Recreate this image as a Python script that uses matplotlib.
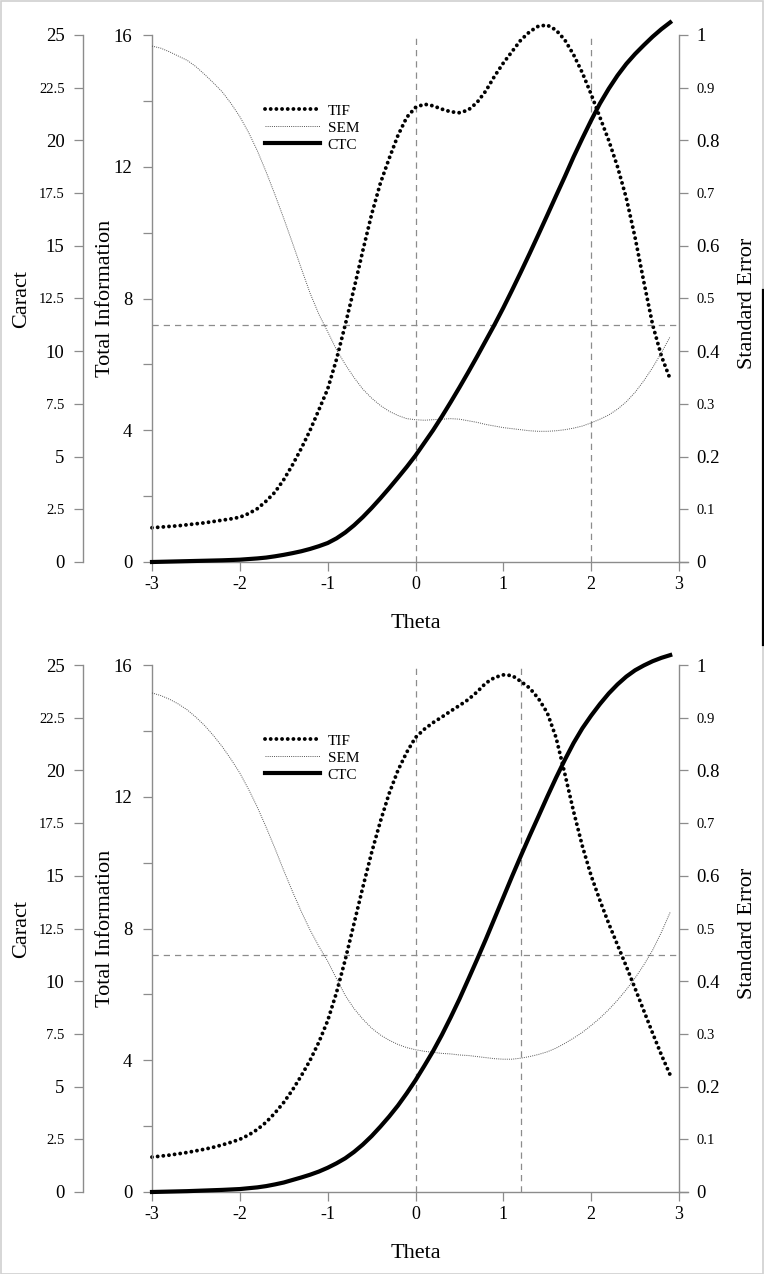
import matplotlib
matplotlib.use('Agg')
import matplotlib.pyplot as plt
from matplotlib.ticker import FixedLocator, FixedFormatter
from matplotlib.lines import Line2D
from matplotlib.patches import Rectangle

plt.rcParams['font.family'] = ['Liberation Serif', 'DejaVu Serif']
plt.rcParams['axes.unicode_minus'] = False

# ---------------- data ----------------
theta = [-3.0, -2.9, -2.8, -2.7, -2.6, -2.5, -2.4, -2.3, -2.2, -2.1,
         -2.0, -1.9, -1.8, -1.7, -1.6, -1.5, -1.4, -1.3, -1.2, -1.1,
         -1.0, -0.9, -0.8, -0.7, -0.6, -0.5, -0.4, -0.3, -0.2, -0.1,
         0.0, 0.1, 0.2, 0.3, 0.4, 0.5, 0.6, 0.7, 0.8, 0.9,
         1.0, 1.1, 1.2, 1.3, 1.4, 1.5, 1.6, 1.7, 1.8, 1.9,
         2.0, 2.1, 2.2, 2.3, 2.4, 2.5, 2.6, 2.7, 2.8, 2.9]

tif_top = [1.04, 1.06, 1.08, 1.10, 1.13, 1.16, 1.19, 1.23, 1.27, 1.31,
           1.36, 1.47, 1.62, 1.85, 2.12, 2.5, 2.95, 3.45, 4.0, 4.62,
           5.25, 6.15, 7.2, 8.3, 9.45, 10.55, 11.5, 12.25, 12.95, 13.5,
           13.8, 13.9, 13.85, 13.75, 13.67, 13.64, 13.72, 13.95, 14.3, 14.75,
           15.15, 15.5, 15.85, 16.1, 16.27, 16.3, 16.15, 15.85, 15.4, 14.85,
           14.2, 13.5, 12.8, 12.0, 11.05, 9.85, 8.5, 7.2, 6.25, 5.55]
sem_top = [0.979, 0.975, 0.968, 0.960, 0.952, 0.940, 0.925, 0.909, 0.892, 0.870,
           0.845, 0.815, 0.780, 0.740, 0.697, 0.652, 0.605, 0.557, 0.510, 0.470,
           0.437, 0.403, 0.375, 0.350, 0.328, 0.311, 0.297, 0.286, 0.278, 0.272,
           0.270, 0.269, 0.270, 0.271, 0.272, 0.271, 0.268, 0.265, 0.261, 0.258,
           0.255, 0.253, 0.251, 0.249, 0.248, 0.248, 0.249, 0.251, 0.254, 0.258,
           0.264, 0.271, 0.279, 0.290, 0.304, 0.322, 0.344, 0.369, 0.397, 0.428]
ctc_top = [0.0, 0.01, 0.02, 0.03, 0.04, 0.05, 0.06, 0.07, 0.08, 0.095,
           0.11, 0.14, 0.17, 0.21, 0.27, 0.34, 0.42, 0.51, 0.62, 0.75,
           0.9, 1.12, 1.4, 1.74, 2.13, 2.56, 3.02, 3.5, 4.0, 4.51,
           5.05, 5.65, 6.25, 6.9, 7.58, 8.28, 9.0, 9.74, 10.5, 11.26,
           12.06, 12.9, 13.76, 14.64, 15.54, 16.45, 17.37, 18.28, 19.22, 20.1,
           20.95, 21.75, 22.45, 23.08, 23.63, 24.1, 24.52, 24.92, 25.28, 25.6]

tif_bot = [1.06, 1.09, 1.12, 1.16, 1.2, 1.25, 1.3, 1.36, 1.43, 1.51,
           1.6, 1.73, 1.9, 2.12, 2.4, 2.72, 3.1, 3.53, 4.0, 4.55,
           5.2, 6.05, 7.05, 8.15, 9.25, 10.3, 11.25, 12.1, 12.8, 13.35,
           13.8, 14.05, 14.25, 14.42, 14.6, 14.77, 14.95, 15.18, 15.45, 15.62,
           15.7, 15.68, 15.5, 15.3, 14.98, 14.55, 13.8, 12.7, 11.55, 10.5,
           9.6, 8.85, 8.15, 7.5, 6.85, 6.18, 5.5, 4.82, 4.16, 3.55]
sem_bot = [0.947, 0.942, 0.935, 0.926, 0.915, 0.901, 0.885, 0.866, 0.845, 0.821,
           0.795, 0.764, 0.730, 0.692, 0.652, 0.610, 0.570, 0.532, 0.497, 0.466,
           0.438, 0.405, 0.373, 0.348, 0.328, 0.311, 0.298, 0.288, 0.280, 0.274,
           0.270, 0.267, 0.265, 0.263, 0.262, 0.260, 0.259, 0.257, 0.255, 0.253,
           0.252, 0.252, 0.254, 0.257, 0.261, 0.266, 0.273, 0.282, 0.292, 0.303,
           0.316, 0.330, 0.346, 0.364, 0.384, 0.406, 0.431, 0.459, 0.493, 0.531]
ctc_bot = [0.0, 0.01, 0.02, 0.03, 0.04, 0.055, 0.07, 0.085, 0.1, 0.12,
           0.14, 0.18, 0.22, 0.28, 0.36, 0.45, 0.57, 0.69, 0.82, 0.97,
           1.15, 1.36, 1.6, 1.9, 2.25, 2.65, 3.1, 3.58, 4.1, 4.68,
           5.3, 5.98, 6.68, 7.45, 8.28, 9.15, 10.08, 11.02, 11.98, 12.98,
           13.98, 14.98, 15.95, 16.9, 17.82, 18.75, 19.65, 20.5, 21.3, 22.0,
           22.6, 23.15, 23.65, 24.08, 24.45, 24.75, 24.98, 25.18, 25.34, 25.47]

vlines_top = [0, 2]
vlines_bot = [0, 1.2]
se_ref = 0.45

legend_labels = ['TIF', 'SEM', 'CTC']
x_ticks = [-3, -2, -1, 0, 1, 2, 3]
x_ticklabels = ['-3', '-2', '-1', '0', '1', '2', '3']
tif_major = [0, 4, 8, 12, 16]
tif_minor = [2, 6, 10, 14]
car_major = [0, 5, 10, 15, 20, 25]
car_major_lbl = ['0', '5', '10', '15', '20', '25']
car_minor = [2.5, 7.5, 12.5, 17.5, 22.5]
car_minor_lbl = ['2.5', '7.5', '12.5', '17.5', '22.5']
se_major = [0, 0.2, 0.4, 0.6, 0.8, 1.0]
se_major_lbl = ['0', '0.2', '0.4', '0.6', '0.8', '1']
se_minor = [0.1, 0.3, 0.5, 0.7, 0.9]
se_minor_lbl = ['0.1', '0.3', '0.5', '0.7', '0.9']

# ---------------- figure ----------------
W, H = 764, 1274
fig = plt.figure(figsize=(W / 100, H / 100), dpi=100)
GREY = '#8c8c8c'
DASH = (0, (5, 4))

panels = [(0, tif_top, sem_top, ctc_top, vlines_top),
          (630, tif_bot, sem_bot, ctc_bot, vlines_bot)]

for off, tif, sem, ctc, vls in panels:
    left, right, top, bottom = 152, 679, 35 + off, 562 + off
    ax = fig.add_axes([left / W, 1 - bottom / H, (right - left) / W, (bottom - top) / H])
    ax_se = ax.twinx()
    ax_c = ax.twinx()

    ax.set_xlim(-3, 3)
    ax.set_ylim(0, 16)
    ax_se.set_ylim(0, 1)
    ax_c.set_ylim(0, 25)

    # spines
    for a in (ax, ax_se, ax_c):
        for s in a.spines.values():
            s.set_visible(False)
            s.set_color(GREY)
            s.set_linewidth(1.0)
    ax.spines['left'].set_visible(True)
    ax.spines['bottom'].set_visible(True)
    ax_se.spines['right'].set_visible(True)
    ax_c.spines['left'].set_visible(True)
    ax_c.spines['left'].set_position(('outward', 69 * 0.72))
    ax_c.yaxis.tick_left()

    ax.add_line(Line2D([1.0, 1.0 + 9 / 527], [0, 0], transform=ax.transAxes,
                       color=GREY, lw=1.0, clip_on=False))

    # ticks
    for a in (ax, ax_se, ax_c):
        a.tick_params(which='both', direction='out', length=6.3, width=0.9,
                      color=GREY, labelcolor='black')
    ax.xaxis.set_major_locator(FixedLocator(x_ticks))
    ax.xaxis.set_major_formatter(FixedFormatter(x_ticklabels))
    ax.tick_params(axis='x', labelsize=13, pad=4)

    ax.yaxis.set_major_locator(FixedLocator(tif_major))
    ax.yaxis.set_minor_locator(FixedLocator(tif_minor))
    ax.yaxis.set_major_formatter(FixedFormatter([str(v) for v in tif_major]))
    ax.tick_params(axis='y', which='major', labelsize=13.5, pad=8)

    ax_c.yaxis.set_major_locator(FixedLocator(car_major))
    ax_c.yaxis.set_major_formatter(FixedFormatter(car_major_lbl))
    ax_c.yaxis.set_minor_locator(FixedLocator(car_minor))
    ax_c.yaxis.set_minor_formatter(FixedFormatter(car_minor_lbl))
    ax_c.tick_params(axis='y', which='major', labelsize=13.5, pad=7)
    ax_c.tick_params(axis='y', which='minor', labelsize=10.5, pad=7)

    ax_se.yaxis.set_major_locator(FixedLocator(se_major))
    ax_se.yaxis.set_major_formatter(FixedFormatter(se_major_lbl))
    ax_se.yaxis.set_minor_locator(FixedLocator(se_minor))
    ax_se.yaxis.set_minor_formatter(FixedFormatter(se_minor_lbl))
    ax_se.tick_params(axis='y', which='major', labelsize=13.5, pad=6)
    ax_se.tick_params(axis='y', which='minor', labelsize=10.5, pad=6)

    # reference lines
    for v in vls:
        ax.axvline(v, color=GREY, lw=0.9, ls=DASH)
    ax_se.axhline(se_ref, color=GREY, lw=0.9, ls=DASH)

    # curves
    l_tif, = ax.plot(theta, tif, color='black', lw=2.8, ls=(0, (0.01, 1.45)),
                     dash_capstyle='round', clip_on=False, label=legend_labels[0])
    l_sem, = ax_se.plot(theta, sem, color='#555555', lw=0.7, ls=(0, (1, 1.2)),
                        clip_on=False, label=legend_labels[1])
    l_ctc, = ax_c.plot(theta, ctc, color='black', lw=3.0, clip_on=False,
                       label=legend_labels[2])

    ax_c.legend(handles=[l_tif, l_sem, l_ctc], labels=legend_labels,
                loc='upper left', bbox_to_anchor=(265 / W, 1 - (104 + off) / H),
                bbox_transform=fig.transFigure, frameon=False, fontsize=11,
                handlelength=3.6, handletextpad=0.5, labelspacing=0.22,
                borderpad=0, borderaxespad=0)

    # axis titles
    yc = 1 - (298.5 + off) / H
    fig.text(22 / W, yc, 'Caract', rotation=90, ha='center', va='center', fontsize=16)
    fig.text(105 / W, yc, 'Total Information', rotation=90, ha='center', va='center', fontsize=16)
    fig.text(747 / W, 1 - (303 + off) / H, 'Standard Error', rotation=90,
             ha='center', va='center', fontsize=16)
    fig.text(415.5 / W, 1 - (624 + off) / H, 'Theta', ha='center', va='center', fontsize=16)

# border
fig.patches.append(Rectangle((0.5 / W, 0.5 / H), 1 - 1.5 / W, 1 - 1.5 / H,
                             transform=fig.transFigure, fill=False,
                             edgecolor='#d0d0d0', lw=1.2))
fig.add_artist(Line2D([762.5 / W, 762.5 / W], [1 - 290 / H, 1 - 645 / H],
                      transform=fig.transFigure, color='black', lw=1.6))

fig.savefig('out.png', dpi=100)
